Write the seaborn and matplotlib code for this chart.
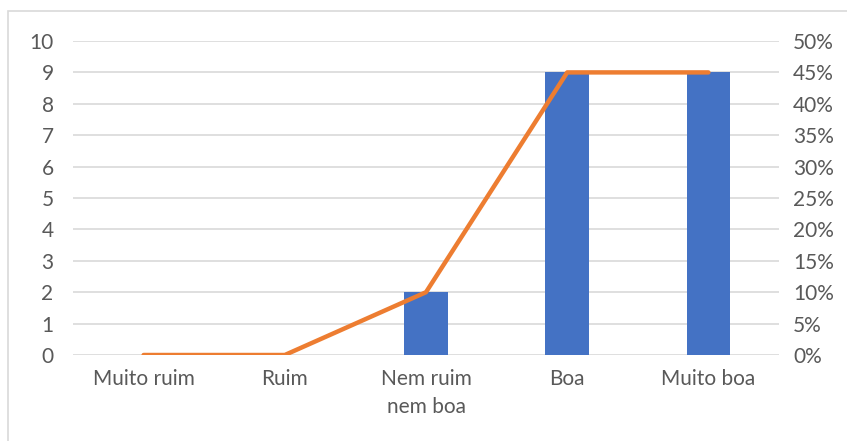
import numpy as np
import pandas as pd
import matplotlib
matplotlib.use('Agg')
import matplotlib.pyplot as plt
from matplotlib.patches import Rectangle
from matplotlib.ticker import FuncFormatter
import seaborn as sns

# Data
categories = ['Muito ruim', 'Ruim', 'Nem ruim\nnem boa', 'Boa', 'Muito boa']
counts = [0, 0, 2, 9, 9]
percents = [0.0, 0.0, 0.10, 0.45, 0.45]

df = pd.DataFrame({'Categoria': categories, 'Contagem': counts, 'Percentual': percents})

sns.set_theme(style='white')
plt.rcParams['font.family'] = ['Lato', 'DejaVu Sans']

fig = plt.figure(figsize=(8.47, 4.41), dpi=100)
ax = fig.add_axes([73 / 847, 1 - 355 / 441, (779 - 73) / 847, (355 - 41) / 441])

# outer chart border (Excel style)
fig.patches.append(Rectangle((8 / 847, -0.1), 1.2, 1 - 11 / 441 + 0.1, transform=fig.transFigure,
                             fill=False, edgecolor='#D9D9D9', linewidth=1.2, zorder=0))

sns.barplot(data=df, x='Categoria', y='Contagem', color='#4472C4', width=0.31,
            saturation=1, linewidth=0, ax=ax, zorder=2)

ax.set_xlim(-0.5, len(categories) - 0.5)
ax.set_ylim(0, 10)
ax.set_yticks(range(0, 11))
ax.yaxis.grid(True, color='#D9D9D9', linewidth=1.2, zorder=0)
ax.set_axisbelow(True)
ax.set_xlabel('')
ax.set_ylabel('')
for s in ax.spines.values():
    s.set_visible(False)
ax.tick_params(axis='y', length=0, labelsize=15, colors='#595959', pad=14)
ax.tick_params(axis='x', length=0, labelsize=15, colors='#595959', pad=10)
for lbl in ax.get_xticklabels():
    lbl.set_linespacing(1.5)

ax2 = ax.twinx()
sns.lineplot(x=np.arange(len(categories)), y=df['Percentual'], color='#ED7D31', linewidth=3.2,
             ax=ax2, solid_capstyle='round', solid_joinstyle='round')
ax2.set_ylim(0, 0.5)
ax2.set_yticks(np.arange(0, 0.51, 0.05))
ax2.yaxis.set_major_formatter(FuncFormatter(lambda v, _: f'{v * 100:.0f}%'))
ax2.set_ylabel('')
for s in ax2.spines.values():
    s.set_visible(False)
ax2.tick_params(axis='y', length=0, labelsize=15, colors='#595959', pad=10)
ax2.grid(False)

fig.savefig('out.png', dpi=100)
